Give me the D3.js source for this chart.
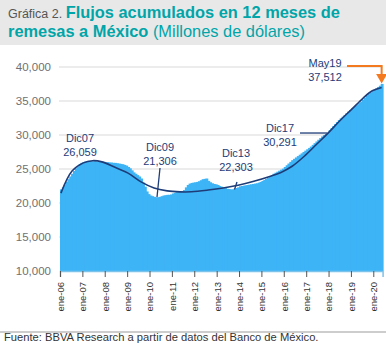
<!DOCTYPE html>
<html>
<head>
<meta charset="utf-8">
<script src="https://cdn.jsdelivr.net/npm/d3@7"></script>
<style>
  body { margin: 0; background: #fff; }
  svg { display: block; font-family: "Liberation Sans", Arial, sans-serif; }
</style>
</head>
<body>
<svg id="chart" width="386" height="350"></svg>
<script>
// 12-month accumulated remittances, monthly from ene-06 to may-20 (millions USD)
let remesas = [
  // 2006
  22000, 22300, 22700, 23100, 23500, 23900, 24300, 24700, 25100, 25400, 25700, 25900,
  // 2007
  26000, 26100, 26150, 26200, 26150, 26100, 26150, 26100, 26050, 26100, 26100, 26059,
  // 2008
  26000, 26000, 25950, 25950, 25900, 25900, 25850, 25800, 25750, 25700, 25600, 25500,
  // 2009
  25300, 25100, 24800, 24500, 24300, 24100, 23900, 23600, 23000, 22400, 21700, 21306,
  // 2010
  21100, 21000, 20900, 20850, 20850, 20900, 21000, 21100, 21150, 21200, 21200, 21250,
  // 2011
  21400, 21500, 21600, 21650, 21700, 21750, 21900, 22300, 22650, 22850, 22950, 23000,
  // 2012
  23050, 23100, 23200, 23350, 23500, 23550, 23600, 23250, 23050, 22900, 22800, 22750,
  // 2013
  22650, 22500, 22400, 22300, 22250, 22100, 22050, 22000, 22000, 22100, 22200, 22303,
  // 2014
  22450, 22500, 22550, 22600, 22650, 22700, 22750, 22800, 22850, 22900, 23000, 23100,
  // 2015
  23250, 23400, 23550, 23700, 23850, 24050, 24300, 24450, 24600, 24750, 24900, 25050,
  // 2016
  25300, 25550, 25800, 26050, 26300, 26500, 26700, 26900, 27100, 27300, 27500, 27700,
  // 2017
  27900, 28100, 28300, 28550, 28800, 29050, 29300, 29550, 29800, 30000, 30150, 30291,
  // 2018
  30700, 31000, 31300, 31600, 31900, 32200, 32450, 32700, 32950, 33200, 33450, 33677,
  // 2019
  33900, 34100, 34300, 34500, 34700, 34900, 35200, 35500, 35800, 36000, 36200, 36439,
  // 2020
  36650, 36850, 37050, 37250, 37512
];

// trend line: month index (0 = ene-06) and value
let trendIdx = [0, 6, 12, 17, 22, 29, 36, 43, 50, 57, 64, 70, 79, 87, 95, 103, 112, 118, 124, 131, 137, 143, 150, 156, 162, 167, 172];
let trendVal = [21450, 24700, 25900, 26220, 26050, 25250, 24400, 23100, 22200, 21780, 21640, 21650, 21900, 22200, 22600, 23150, 23900, 24500, 25400, 27000, 28600, 30200, 32200, 33800, 35400, 36500, 37000];

let yTicks = [10000, 15000, 20000, 25000, 30000, 35000, 40000];
let xTickLabels = ["ene-06", "ene-07", "ene-08", "ene-09", "ene-10", "ene-11", "ene-12", "ene-13",
  "ene-14", "ene-15", "ene-16", "ene-17", "ene-18", "ene-19", "ene-20"];

let annLabels = ["Dic07", "Dic09", "Dic13", "Dic17", "May19"];
let annValues = ["26,059", "21,306", "22,303", "30,291", "37,512"];

let start = new Date(2006, 0, 1);
let months = remesas.map((v, i) => d3.timeMonth.offset(start, i));
let tickDates = xTickLabels.map((l, i) => new Date(2006 + i, 0, 1));

let svg = d3.select('#chart');
let teal = '#00a5a8', navy = '#1e3c78', orange = '#f47a1f';

// title band
svg.append('rect').attr('x', 0).attr('y', 0).attr('width', 386).attr('height', 45).attr('fill', '#e8e8e8');
let t1 = svg.append('text').attr('x', 8).attr('y', 18);
t1.append('tspan').text('Gráfica 2. ').attr('fill', '#555').style('font-size', '12.5px');
t1.append('tspan').text('Flujos acumulados en 12 meses de').attr('fill', teal)
  .style('font-size', '16.4px').style('font-weight', 'bold');
let t2 = svg.append('text').attr('x', 8).attr('y', 37).attr('fill', teal).style('font-size', '16.4px');
t2.append('tspan').text('remesas a México').style('font-weight', 'bold');
t2.append('tspan').text(' (Millones de dólares)');

let x = d3.scaleTime().domain([start, new Date(2020, 5, 1)]).range([60, 382.6]);
let y = d3.scaleLinear().domain([10000, 40000]).range([271, 67]);

// gridlines + y labels
svg.append('g').selectAll('line')
  .data(yTicks.slice(1))
  .enter().append('line')
  .attr('x1', 59).attr('x2', 383)
  .attr('y1', d => y(d)).attr('y2', d => y(d))
  .attr('stroke', '#d9d9d9');

svg.append('g').selectAll('text')
  .data(yTicks)
  .enter().append('text')
  .attr('x', 51).attr('y', d => y(d) + 4)
  .attr('text-anchor', 'end')
  .attr('fill', '#707070')
  .style('font-size', '11.5px')
  .text(d => d3.format(',')(d));

// bars (slight overlap so there are no seams)
svg.append('g').selectAll('rect')
  .data(remesas)
  .enter().append('rect')
  .attr('x', (d, i) => x(months[i]))
  .attr('width', (d, i) => x(d3.timeMonth.offset(months[i], 1)) - x(months[i]) + 1)
  .attr('y', d => y(d))
  .attr('height', d => y(10000) - y(d))
  .attr('fill', '#3db4f6');

// x axis
let xAxis = d3.axisBottom(x).tickValues(tickDates).tickSize(6).tickFormat((d, i) => xTickLabels[i]);
let xg = svg.append('g').attr('transform', 'translate(0,271)').call(xAxis);
xg.select('.domain').attr('stroke', '#7cc3ec').attr('stroke-width', 1.5);
xg.selectAll('.tick line').attr('stroke', '#555');
xg.selectAll('.tick text')
  .attr('y', 0).attr('x', -11).attr('dy', '0.35em')
  .attr('transform', 'rotate(-90)')
  .style('text-anchor', 'end')
  .style('font-size', '9.5px')
  .style('font-family', '"Liberation Sans", Arial, sans-serif')
  .attr('fill', '#333');

// trend line
let mid = i => x(d3.timeMonth.offset(start, i)) + 0.93;
let trend = d3.line()
  .x((d, i) => mid(trendIdx[i]))
  .y(d => y(d))
  .curve(d3.curveCatmullRom);
svg.append('path').attr('d', trend(trendVal))
  .attr('fill', 'none').attr('stroke', navy).attr('stroke-width', 1.6);

// annotations
let annPos = [[80, 142], [160, 151], [236, 157], [280, 132], [325, 67]];
let ann = svg.append('g').attr('fill', navy).style('font-size', '11px').attr('text-anchor', 'middle');
annLabels.forEach((l, i) => {
  ann.append('text').attr('x', annPos[i][0]).attr('y', annPos[i][1]).text(l);
  ann.append('text').attr('x', annPos[i][0]).attr('y', annPos[i][1] + 14).text(annValues[i]);
});

// Dic09 and Dic13 ticks across the trend
svg.append('line').attr('x1', 160).attr('y1', 168).attr('x2', 157).attr('y2', 197)
  .attr('stroke', navy).attr('stroke-width', 1.3);
svg.append('line').attr('x1', 237).attr('y1', 182).attr('x2', 234.5).attr('y2', 189.5)
  .attr('stroke', navy).attr('stroke-width', 1.3);
// Dic17 connector
svg.append('line').attr('x1', 300).attr('x2', mid(143)).attr('y1', y(30291)).attr('y2', y(30291))
  .attr('stroke', navy).attr('stroke-width', 1.3);

// May arrow
let ax = mid(172);
svg.append('path')
  .attr('d', `M347,66H${ax}V75`)
  .attr('fill', 'none').attr('stroke', orange).attr('stroke-width', 2);
svg.append('path')
  .attr('d', `M${ax - 5.5},74L${ax + 5.5},74L${ax},${y(37512) - 0.5}Z`)
  .attr('fill', orange);

// footer
svg.append('line').attr('x1', 0).attr('x2', 386).attr('y1', 332).attr('y2', 332)
  .attr('stroke', '#bdbdbd').attr('stroke-width', 1.5);
svg.append('text').attr('x', 4).attr('y', 341)
  .attr('fill', '#333').style('font-size', '11.2px')
  .text('Fuente: BBVA Research a partir de datos del Banco de México.');
</script>
</body>
</html>
